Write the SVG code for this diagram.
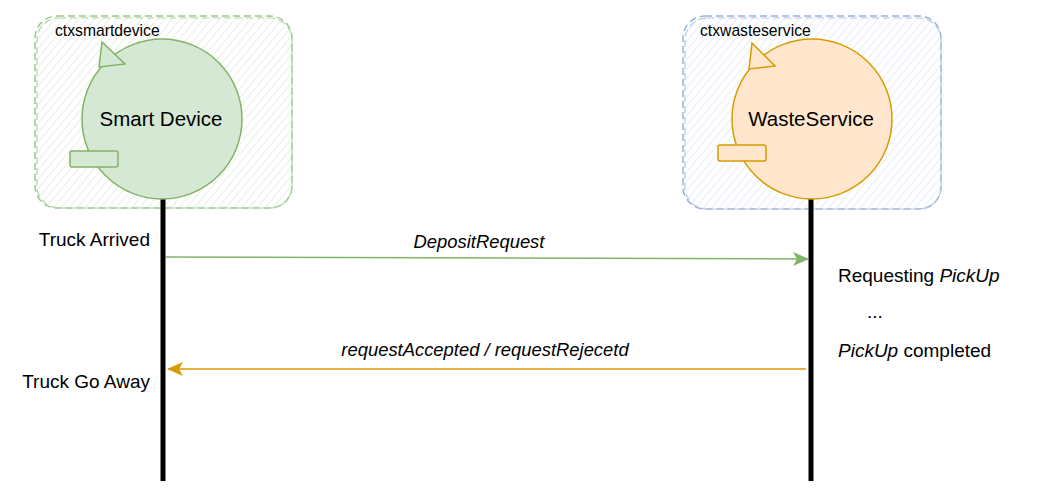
<svg xmlns="http://www.w3.org/2000/svg" width="1050" height="490" viewBox="0 0 1050 490">
<defs>
<style>
text{font-family:"Liberation Sans",Arial,Helvetica,sans-serif;fill:#000}
.ctx{font-size:15.7px}
.title{font-size:20.5px;text-anchor:middle}
.lbl{font-size:19px}
.clbl{font-size:18.4px;font-style:italic;text-anchor:middle}
.it{font-style:italic}
.life{stroke:#000;stroke-width:5}
.gbox{fill:url(#hatchG);stroke:#9cc98f;stroke-width:1.5;stroke-dasharray:7 4}
.bbox{fill:url(#hatchB);stroke:#9db4d8;stroke-width:1.5;stroke-dasharray:7 4}
.gfill{fill:#d5e8d4;stroke:#82b366;stroke-width:1.5}
.ofill{fill:#ffe6cc;stroke:#d79b00;stroke-width:1.5}
</style>
<pattern id="hatchG" patternUnits="userSpaceOnUse" width="6" height="6" patternTransform="rotate(40)">
<line x1="0" y1="0" x2="0" y2="6" stroke="#c9e1c5" stroke-width="1"/>
</pattern>
<pattern id="hatchB" patternUnits="userSpaceOnUse" width="6" height="6" patternTransform="rotate(40)">
<line x1="0" y1="0" x2="0" y2="6" stroke="#cbdcf3" stroke-width="1"/>
</pattern>
<marker id="arrG" viewBox="0 0 16 14" refX="15" refY="7" markerWidth="16" markerHeight="14" markerUnits="userSpaceOnUse" orient="auto">
<path d="M0,0 L16,7 L0,14 L4,7 Z" fill="#82b366"/>
</marker>
<marker id="arrO" viewBox="0 0 16 14" refX="15" refY="7" markerWidth="16" markerHeight="14" markerUnits="userSpaceOnUse" orient="auto">
<path d="M0,0 L16,7 L0,14 L4,7 Z" fill="#d79b00"/>
</marker>
</defs>
<rect width="1050" height="490" fill="#ffffff"/>

<g id="ctxsmartdevice">
<rect class="gbox" x="35" y="16" width="257" height="192" rx="22"/>
<rect x="37" y="18" width="255" height="190" rx="22" fill="none" stroke="#b3d6a8" stroke-width="1.2" stroke-dasharray="7 4"/>
<text class="ctx" x="55" y="36">ctxsmartdevice</text>
</g>

<g id="ctxwasteservice">
<rect class="bbox" x="683" y="16" width="258" height="193" rx="22"/>
<rect x="685" y="18" width="256" height="191" rx="22" fill="none" stroke="#b6c8e4" stroke-width="1.2" stroke-dasharray="7 4"/>
<text class="ctx" x="700" y="36">ctxwasteservice</text>
</g>

<g id="lifelines">
<line class="life" x1="163" y1="199" x2="163" y2="481"/>
<line class="life" x1="811" y1="199" x2="811" y2="481"/>
</g>

<g id="smartdevice">
<circle class="gfill" cx="162" cy="119" r="80"/>
<polygon class="gfill" points="102,42 125,64 99,67"/>
<rect class="gfill" x="70" y="151" width="48" height="16" rx="2"/>
<text class="title" x="161" y="126">Smart Device</text>
</g>

<g id="wasteservice">
<circle class="ofill" cx="812" cy="119" r="80"/>
<polygon class="ofill" points="752,43 775,66 749,69"/>
<rect class="ofill" x="718" y="145" width="48" height="16" rx="2"/>
<text class="title" x="811" y="126">WasteService</text>
</g>

<g id="connectors">
<line x1="166" y1="257" x2="808" y2="259" stroke="#82b366" stroke-width="1.5" marker-end="url(#arrG)"/>
<text class="clbl" x="479" y="248">DepositRequest</text>
<line x1="806" y1="369" x2="168" y2="369" stroke="#d79b00" stroke-width="1.5" marker-end="url(#arrO)"/>
<text class="clbl" x="485" y="356">requestAccepted / requestRejecetd</text>
</g>

<g id="notes">
<text class="lbl" x="150" y="246" text-anchor="end">Truck Arrived</text>
<text class="lbl" x="150" y="388" text-anchor="end">Truck Go Away</text>
<text class="lbl" x="838" y="282">Requesting <tspan class="it">PickUp</tspan></text>
<text class="lbl" x="867" y="318">...</text>
<text class="lbl" x="838" y="357"><tspan class="it">PickUp</tspan> completed</text>
</g>
</svg>
